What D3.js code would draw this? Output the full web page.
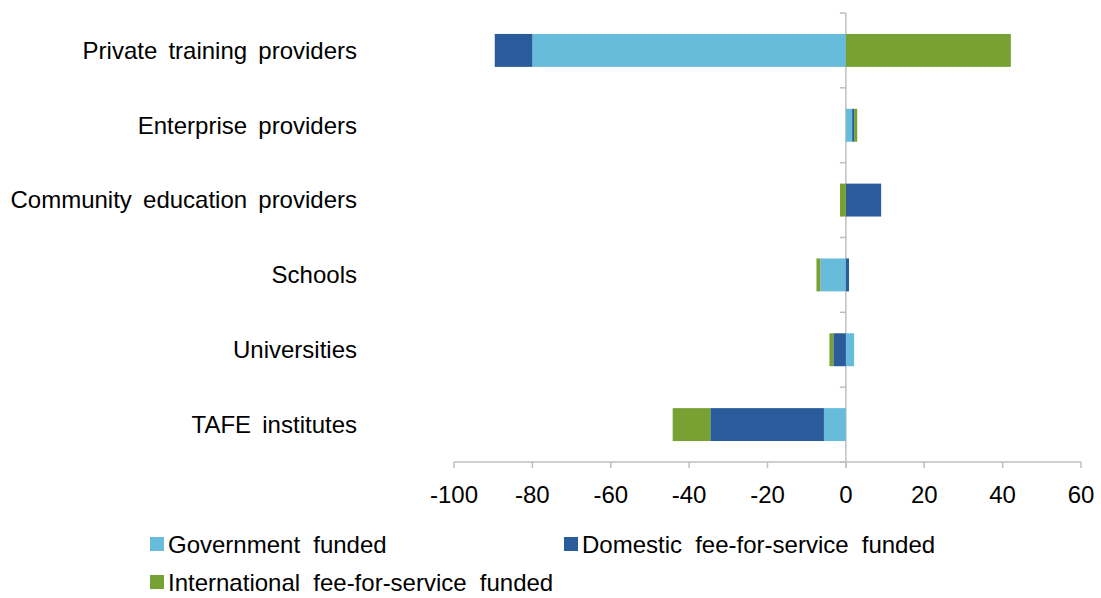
<!DOCTYPE html>
<html><head><meta charset="utf-8">
<script src="https://cdn.jsdelivr.net/npm/d3@7"></script>
<style>body{margin:0;background:#fff}svg{display:block}text{font-family:"Liberation Sans",Arial,sans-serif;fill:#000}</style>
</head><body><svg id="c" width="1101" height="598"></svg>
<script>
const categories = ["Private training providers","Enterprise providers","Community education providers","Schools","Universities","TAFE institutes"];
const seriesNames = ["Government funded","Domestic fee-for-service funded","International fee-for-service funded"];
const govFunded = [-80, 1.6, 0, -6.5, 2.1, -5.6];
const domesticFFS = [-9.6, 0.5, 9.0, 0.8, -3.2, -29];
const internationalFFS = [42.1, 0.8, -1.5, -1.0, -1.0, -9.6];
const xTicks = [-100,-80,-60,-40,-20,0,20,40,60];
const colors = ["#67bcdb","#2a5c9b","#77a132"];

(function(){
const svg = d3.select("#c");
const mLeft = 454, mRight = 1081, mTop = 13, mBottom = 462;
const x = d3.scaleLinear().domain([-100,60]).range([mLeft,mRight]);
const y = d3.scaleBand().domain(categories).range([mTop,mBottom]).paddingInner(0.56).paddingOuter(0.28);

const rows = categories.map((c,i)=>({cat:c, s0:govFunded[i], s1:domesticFFS[i], s2:internationalFFS[i]}));
const stack = d3.stack().keys(["s0","s1","s2"]).offset(d3.stackOffsetDiverging);
const layers = stack(rows);

const axisCol = "#bfbfbf";
svg.append("line").attr("x1",x(0)).attr("x2",x(0)).attr("y1",mTop).attr("y2",mBottom+6).attr("stroke",axisCol).attr("stroke-width",1.5);
d3.range(categories.length+1).forEach(i=>{
  const yy = mTop + i*(mBottom-mTop)/categories.length;
  svg.append("line").attr("x1",x(0)-6).attr("x2",x(0)).attr("y1",yy).attr("y2",yy).attr("stroke",axisCol).attr("stroke-width",1.5);
});

layers.forEach((layer,k)=>{
  svg.append("g").selectAll("rect").data(layer).join("rect")
    .attr("x",d=>x(Math.min(d[0],d[1])))
    .attr("width",d=>Math.abs(x(d[1])-x(d[0])))
    .attr("y",d=>y(d.data.cat))
    .attr("height",y.bandwidth())
    .attr("fill",colors[k]);
});

const xa = svg.append("g").attr("transform",`translate(0,${mBottom})`);
xa.append("line").attr("x1",mLeft).attr("x2",mRight).attr("stroke",axisCol).attr("stroke-width",1.5);
xa.selectAll("line.t").data(xTicks).join("line").attr("class","t")
  .attr("x1",d=>x(d)).attr("x2",d=>x(d)).attr("y1",0).attr("y2",6).attr("stroke",axisCol).attr("stroke-width",1.5);
xa.selectAll("text").data(xTicks).join("text")
  .attr("x",d=>x(d)).attr("y",41).attr("text-anchor","middle").attr("font-size",24).text(d=>d);

svg.append("g").selectAll("text").data(categories).join("text")
  .attr("x",357).attr("y",d=>y(d)+y.bandwidth()/2).attr("dy","0.35em")
  .attr("text-anchor","end").attr("font-size",24).attr("word-spacing",4.5).text(d=>d);

const legendPos = [[150,537],[564,537],[150,575]];
seriesNames.forEach((n,i)=>{
  const [lx,ly]=legendPos[i];
  svg.append("rect").attr("x",lx).attr("y",ly).attr("width",14).attr("height",14).attr("fill",colors[i]);
  svg.append("text").attr("x",lx+18).attr("y",ly+16).attr("font-size",24).attr("word-spacing",6.5).text(n);
});
})();
</script></body></html>
